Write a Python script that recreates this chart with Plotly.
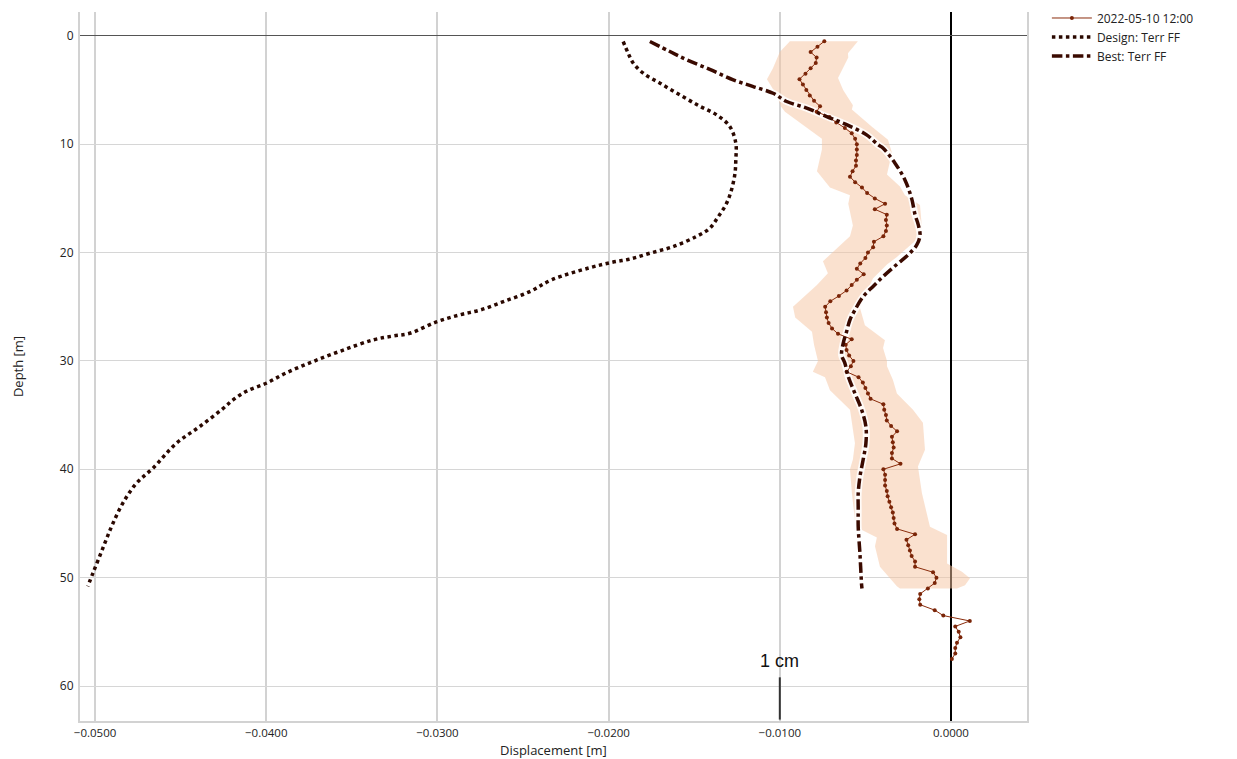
import plotly.graph_objects as go

# ---------------- data ----------------
meas_depth = [0.5, 1.0, 1.5, 2.0, 2.5, 3.0, 3.5, 4.0, 4.5, 5.0, 5.5, 6.0, 6.5, 7.0, 7.5, 8.0, 8.5, 9.0, 9.5, 10.0,
              10.5, 11.0, 11.5, 12.0, 12.5, 13.0, 13.5, 14.0, 14.5, 15.0, 15.5, 16.0, 16.5, 17.0, 17.5, 18.0, 18.5, 19.0, 19.5, 20.0,
              20.5, 21.0, 21.5, 22.0, 22.5, 23.0, 23.5, 24.0, 24.5, 25.0, 25.5, 26.0, 26.5, 27.0, 27.5, 28.0, 28.5, 29.0, 29.5, 30.0,
              30.5, 31.0, 31.5, 32.0, 32.5, 33.0, 33.5, 34.0, 34.5, 35.0, 35.5, 36.0, 36.5, 37.0, 37.5, 38.0, 38.5, 39.0, 39.5, 40.0,
              40.5, 41.0, 41.5, 42.0, 42.5, 43.0, 43.5, 44.0, 44.5, 45.0, 45.5, 46.0, 46.5, 47.0, 47.5, 48.0, 48.5, 49.0, 49.5, 50.0,
              50.5, 51.0, 51.5, 52.0, 52.5, 53.0, 53.5, 54.0, 54.5, 55.0, 55.5, 56.0, 56.5, 57.0, 57.5]
meas_disp_mm = [-7.4, -7.8, -8.2, -7.85, -7.9, -8.2, -8.5, -8.85, -8.65, -8.45, -8.25, -8.0, -7.65, -7.85, -7.1, -6.7, -6.2, -5.8, -5.6, -5.5,
                -5.5, -5.5, -5.55, -5.55, -5.75, -5.9, -5.6, -5.2, -4.9, -4.45, -3.85, -4.45, -3.75, -3.8, -3.75, -3.8, -3.95, -4.5, -4.55, -4.85,
                -5.0, -5.3, -5.5, -5.1, -5.5, -5.8, -6.1, -6.55, -7.05, -7.35, -7.3, -7.25, -7.15, -6.95, -6.6, -5.8, -6.15, -6.1, -5.95, -5.7,
                -5.85, -6.1, -5.4, -5.15, -5.0, -4.85, -4.7, -3.95, -3.9, -3.8, -3.75, -3.5, -3.15, -3.45, -3.4, -3.35, -3.45, -3.45, -2.95, -3.95,
                -3.85, -3.85, -3.85, -3.75, -3.7, -3.6, -3.5, -3.4, -3.35, -3.3, -3.15, -2.1, -2.6, -2.5, -2.4, -2.3, -2.1, -2.1, -1.05, -0.85,
                -0.95, -1.35, -1.8, -1.85, -1.8, -0.95, -0.45, 1.1, 0.25, 0.45, 0.55, 0.35, 0.25, 0.25, 0.05]

band_left_depth = [0.5, 1.5, 3.0, 4.0, 5.5, 6.5, 7.0, 8.5, 9.5, 10.5, 12.5, 14.0, 14.7, 15.5, 17.5, 18.5, 19.5, 20.8, 21.9, 23.0,
                   25.0, 26.0, 27.3, 28.5, 30.0, 31.0, 31.5, 32.7, 34.5, 37.6, 39.1, 40.0, 42.2, 44.7, 45.6, 46.3, 47.1, 49.0, 50.8, 51.0]
band_left_mm = [-9.41, -10.0, -10.4, -10.75, -10.17, -9.94, -9.7, -8.4, -7.54, -7.54, -7.83, -7.07, -5.9, -6.0, -5.73, -5.9, -6.6, -7.48, -7.19, -7.83,
                -9.23, -9.1, -8.12, -8.0, -7.77, -8.07, -7.36, -7.07, -5.9, -5.61, -5.73, -5.9, -5.79, -5.61, -5.2, -4.33, -4.44, -4.15, -3.16, -2.98]
band_right_depth = [0.5, 1.6, 2.0, 3.9, 5.0, 6.4, 6.8, 8.4, 9.6, 10.8, 12.8, 13.9, 14.7, 15.6, 17.7, 18.8, 20.4, 21.1, 22.4, 25.1,
                    26.7, 28.1, 28.8, 30.0, 30.5, 31.75, 33.0, 34.5, 35.7, 38.2, 39.75, 42.2, 45.3, 46.06, 48.7, 49.45, 50.06, 50.7, 51.0]
band_right_mm = [-5.44, -6.02, -6.0, -6.6, -6.3, -5.73, -5.79, -4.62, -3.68, -3.45, -3.74, -2.98, -2.69, -1.81, -1.7, -1.99, -3.16, -3.74, -4.56, -5.32,
                 -5.03, -3.86, -3.97, -3.74, -3.74, -3.39, -3.16, -2.22, -1.64, -1.52, -1.93, -1.7, -1.23, -0.23, -0.23, 0.64, 1.11, 0.82, 0.35]

design_depth = [0.52, 1.6, 2.5, 3.45, 4.37, 5.45, 6.5, 7.3, 8.37, 9.9, 11.45, 12.7, 14.2, 15.45, 16.7, 17.75, 18.5, 19.45, 20.06, 20.6,
                20.9, 21.4, 22.5, 23.6, 24.5, 25.3, 25.75, 26.4, 27.45, 27.7, 28.06, 29.0, 30.06, 31.1, 32.06, 32.8, 33.6, 34.4, 36.06, 37.6,
                39.9, 41.3, 43.1, 45.0, 46.5, 48.06, 49.6, 50.8]
design_mm = [-19.15, -18.86, -18.57, -17.98, -17.0, -15.84, -14.67, -13.69, -12.92, -12.57, -12.57, -12.62, -12.82, -13.11, -13.6, -14.09, -14.86, -16.23, -17.59, -18.76,
             -19.8, -21.1, -23.3, -24.6, -26.1, -27.5, -28.7, -30.06, -31.62, -32.6, -33.76, -35.5, -37.27, -38.83, -40.0, -41.16, -41.94, -42.53, -43.89, -45.25,
             -46.62, -47.59, -48.37, -48.96, -49.35, -49.74, -50.13, -50.42]

best_depth = [0.52, 1.45, 2.2, 3.1, 4.06, 4.68, 5.3, 6.06, 6.67, 7.45, 8.2, 9.14, 10.06, 10.37, 11.75, 13.3, 15.0, 16.5, 17.45, 18.4,
              19.3, 20.2, 21.1, 22.2, 23.1, 24.06, 25.3, 26.2, 27.3, 28.4, 29.45, 30.2, 31.45, 33.0, 34.5, 36.06, 37.6, 39.1, 40.7, 42.2,
              43.75, 45.3, 47.75, 50.7, 51.0]
best_mm = [-17.59, -16.42, -15.45, -14.09, -12.72, -11.55, -10.39, -9.6, -8.43, -7.26, -6.1, -4.93, -4.25, -3.96, -3.27, -2.69, -2.3, -2.1, -1.91, -1.81,
           -2.0, -2.5, -3.17, -3.96, -4.54, -5.13, -5.61, -5.9, -6.1, -6.3, -6.39, -6.2, -6.0, -5.61, -5.22, -4.97, -4.97, -5.13, -5.32, -5.42,
           -5.42, -5.42, -5.32, -5.22, -5.2]

x_ticks = [-0.05, -0.04, -0.03, -0.02, -0.01, 0.0]
y_ticks = [0, 10, 20, 30, 40, 50, 60]
scale_bar_x = -0.01
scale_bar_depth = [59.2, 63.1]
scale_label = "1 cm"
x_title = "Displacement [m]"
y_title = "Depth [m]"

MM = 0.001
meas_disp = [v * MM for v in meas_disp_mm]
band_x = [v * MM for v in band_left_mm] + [v * MM for v in band_right_mm[::-1]]
band_y = band_left_depth + band_right_depth[::-1]
design = [v * MM for v in design_mm]
best = [v * MM for v in best_mm]

FONT = "Open Sans"
fig = go.Figure()

fig.add_trace(go.Scatter(x=band_x, y=band_y, fill="toself", mode="lines",
                         line=dict(width=0), fillcolor="rgba(246,196,160,0.5)",
                         hoverinfo="skip", showlegend=False))
# white halo under best line
fig.add_trace(go.Scatter(x=best, y=best_depth, mode="lines",
                         line=dict(color="rgba(255,255,255,0.85)", width=7, shape="spline"),
                         hoverinfo="skip", showlegend=False))
fig.add_trace(go.Scatter(x=meas_disp, y=meas_depth, mode="lines+markers",
                         name="2022-05-10 12:00",
                         line=dict(color="#8a2c0c", width=1),
                         marker=dict(color="#7a2508", size=4)))
fig.add_trace(go.Scatter(x=design, y=design_depth, mode="lines", name="Design: Terr FF",
                         line=dict(color="#2a0800", width=3.5, dash="dot", shape="spline")))
fig.add_trace(go.Scatter(x=best, y=best_depth, mode="lines", name="Best: Terr FF",
                         line=dict(color="#3a0a00", width=3.5, dash="dashdot", shape="spline")))

fig.add_shape(type="line", xref="x", yref="y", x0=scale_bar_x, x1=scale_bar_x,
              y0=scale_bar_depth[0], y1=scale_bar_depth[1],
              line=dict(color="#333333", width=2))
fig.add_annotation(x=scale_bar_x, y=scale_bar_depth[0], xref="x", yref="y",
                   text=scale_label, showarrow=False, yanchor="bottom", yshift=4,
                   font=dict(family="Liberation Sans", size=18, color="#111111"))
fig.add_annotation(x=0.5, y=0, xref="paper", yref="paper", text=x_title,
                   showarrow=False, xanchor="center", yanchor="middle", yshift=-29,
                   font=dict(family=FONT, size=13, color="#222222"))

fig.update_layout(
    width=1229, height=751,
    margin=dict(l=72, r=210, t=4, b=38, autoexpand=False),
    plot_bgcolor="white", paper_bgcolor="white",
    font=dict(family=FONT, size=12, color="#222222"),
    legend=dict(x=1.021, y=1.012, xanchor="left", yanchor="top",
                font=dict(family=FONT, size=12, color="#222222"),
                tracegroupgap=0, itemwidth=40),
    showlegend=True,
)
fig.update_xaxes(range=[-0.05088, 0.00444], tickvals=x_ticks, tickformat=".4f",
                 automargin=False,
                 showgrid=True, gridcolor="#d2d2d2", gridwidth=1.5,
                 zeroline=True, zerolinecolor="#000000", zerolinewidth=1.5,
                 showline=True, linecolor="#d2d2d2", linewidth=2,
                 ticks="", tickfont=dict(size=11.5, color="#222222"))
fig.update_yaxes(range=[63.23, -2.2], tickvals=y_ticks,
                 automargin=False,
                 showgrid=True, gridcolor="#d6d6d6", gridwidth=1,
                 zeroline=True, zerolinecolor="#555555", zerolinewidth=1.2,
                 showline=True, linecolor="#d2d2d2", linewidth=2, mirror=True,
                 ticks="", ticklabelstandoff=2, tickfont=dict(size=12, color="#222222"),
                 title=dict(text=y_title, font=dict(size=13, color="#222222"), standoff=33))

fig.write_html("out.html")
